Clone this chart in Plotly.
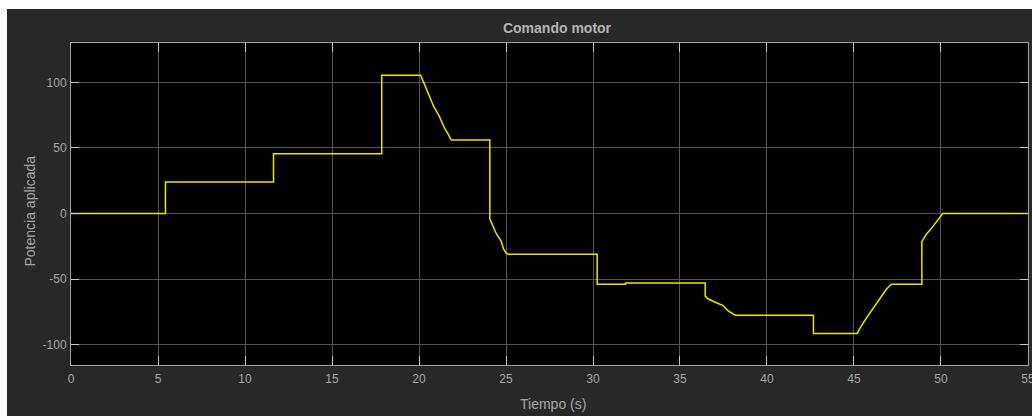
import plotly.graph_objects as go

# Motor command signal (time in seconds, applied power)
tiempo = [0, 5.43, 5.43, 11.64, 11.64, 17.86, 17.86, 20.09, 20.3, 20.6, 20.83,
          21.17, 21.47, 21.7, 21.85, 24.07, 24.07, 24.43, 24.72, 24.86, 25.0,
          25.14, 30.24, 30.24, 31.87, 31.87, 36.45, 36.45, 36.6, 37.08, 37.46,
          37.75, 38.03, 38.17, 42.67, 42.67, 45.18, 45.32, 45.7, 46.08, 46.46,
          46.85, 47.14, 48.9, 48.9, 49.15, 49.53, 49.82, 50.1, 55]
potencia = [0, 0, 24, 24, 45.5, 45.5, 105.5, 105.5, 99, 89.5, 82,
            74, 65, 60, 56, 56, -4, -15, -21, -27, -30,
            -31, -31, -54, -54, -53, -53, -63, -65, -68, -70,
            -74, -76, -77.5, -77.5, -91.5, -91.5, -88, -80, -72.5, -65,
            -58, -54, -54, -21.5, -16, -10, -5, 0, 0]

x_ticks = [0, 5, 10, 15, 20, 25, 30, 35, 40, 45, 50, 55]
x_tick_text = ["0", "5", "10", "15", "20", "25", "30", "35", "40", "45", "50", "55"]
y_ticks = [-100, -50, 0, 50, 100]
y_tick_text = ["-100", "-50", "0", "50", "100"]

W, H = 1032, 416
ML, MR, MT, MB = 71, 4, 43, 51
PW, PH = W - ML - MR, H - MT - MB


def px_x(p):
    return (p - ML) / PW


def px_y(p):
    return (H - MB - p) / PH


FONT = "Liberation Sans, Arial, sans-serif"
TICK_COLOR = "#a6a6a6"

fig = go.Figure()
fig.add_trace(go.Scatter(
    x=tiempo, y=potencia, mode="lines",
    line=dict(color="#e6e600", width=1.5),
    hoverinfo="skip", showlegend=False,
))

axis_common = dict(
    showgrid=True, gridcolor="#555555", gridwidth=1,
    showline=True, linecolor="#a0a0a0", linewidth=1, mirror="ticks",
    ticks="inside", tickcolor="#c8c8c8", tickwidth=1,
    zeroline=False, ticklabeloverflow="allow", automargin=False,
    tickfont=dict(family=FONT, size=12, color=TICK_COLOR),
)

fig.update_xaxes(range=[0, 55.0005], tickvals=x_ticks, ticktext=x_tick_text,
                 ticklen=9, ticklabelstandoff=3, **axis_common)
fig.update_yaxes(range=[-115.5, 130], tickvals=y_ticks, ticktext=y_tick_text,
                 ticklen=8, ticklabelstandoff=1, **axis_common)

fig.update_layout(
    width=W, height=H,
    margin=dict(l=ML, r=MR, t=MT, b=MB, autoexpand=False),
    paper_bgcolor="#282828", plot_bgcolor="#000000",
    title=dict(text="<b>Comando motor</b>", x=px_x(557), xref="paper", xanchor="center",
               y=1 - 28 / H, yref="container", yanchor="middle",
               font=dict(family=FONT, size=14, color="#b4b4b4")),
    annotations=[
        dict(text="Potencia aplicada", textangle=-90, showarrow=False,
             xref="paper", yref="paper", x=px_x(29), y=px_y(211.5),
             xanchor="center", yanchor="middle",
             font=dict(family=FONT, size=14, color=TICK_COLOR)),
        dict(text="Tiempo (s)", showarrow=False,
             xref="paper", yref="paper", x=px_x(553), y=px_y(404),
             xanchor="center", yanchor="middle",
             font=dict(family=FONT, size=14, color=TICK_COLOR)),
    ],
    shapes=[
        # white margin strips around the dark panel
        dict(type="rect", xref="paper", yref="paper", layer="above",
             x0=px_x(-2), x1=px_x(7), y0=px_y(H + 2), y1=px_y(-2),
             fillcolor="#ffffff", line=dict(width=0)),
        dict(type="rect", xref="paper", yref="paper", layer="above",
             x0=px_x(-2), x1=px_x(W + 2), y0=px_y(9), y1=px_y(-2),
             fillcolor="#ffffff", line=dict(width=0)),
    ],
)

fig.write_html("out.html")
